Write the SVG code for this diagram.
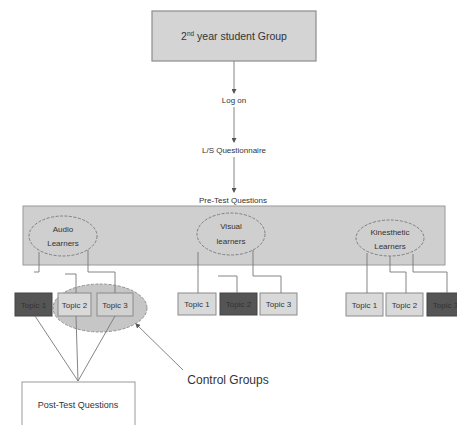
<svg xmlns="http://www.w3.org/2000/svg" width="457" height="425" viewBox="0 0 457 425">
<defs>
<style>
text{font-family:"Liberation Sans",Arial,sans-serif;fill:#333;text-anchor:middle}
.box{fill:#d4d4d4;stroke:#8c8c8c;stroke-width:1.2}
.band{fill:#cfcfcf;stroke:#9a9a9a;stroke-width:1}
.ell{fill:#cfcfcf;stroke:#777;stroke-width:0.9;stroke-dasharray:3 1.5}
.ctl{fill:#c6c6c6;stroke:#888;stroke-width:0.9;stroke-dasharray:3 1.5}
.tl{fill:#d9d9d9;stroke:#8a8a8a;stroke-width:1}
.td{fill:#555;stroke:#444;stroke-width:1}
.ln{fill:none;stroke:#777;stroke-width:0.9}
.t8{font-size:8px}
.t9{font-size:9px}
</style>
<marker id="ah" markerWidth="5" markerHeight="5" refX="4" refY="2.5" orient="auto" markerUnits="userSpaceOnUse">
<path d="M0,0 L5,2.5 L0,5 Z" fill="#555"/>
</marker>
</defs>

<g id="top">
<rect class="box" x="152" y="11" width="164" height="50"/>
<text x="234" y="40" font-size="10.5">2<tspan font-size="6.5" dy="-4">nd</tspan><tspan dy="4"> year student Group</tspan></text>
</g>

<g id="logon"><text class="t8" x="234" y="103">Log on</text></g>
<g id="ls"><text class="t8" x="234" y="153">L/S Questionnaire</text></g>

<g id="band">
<rect class="band" x="23" y="206" width="422" height="59"/>
</g>
<g id="pretest"><text class="t8" x="233" y="203">Pre-Test Questions</text></g>

<g id="audio">
<ellipse class="ell" cx="63" cy="236" rx="34" ry="20"/>
<text class="t8" x="63" y="232">Audio</text>
<text class="t8" x="63" y="246">Learners</text>
</g>
<g id="visual">
<ellipse class="ell" cx="231" cy="234" rx="34" ry="21"/>
<text class="t8" x="231" y="229">Visual</text>
<text class="t8" x="231" y="244">learners</text>
</g>
<g id="kinesthetic">
<ellipse class="ell" cx="390" cy="238" rx="34" ry="18"/>
<text class="t8" x="390" y="235">Kinesthetic</text>
<text class="t8" x="390" y="249">Learners</text>
</g>

<g id="controlgroup">
<ellipse class="ctl" cx="100" cy="308" rx="47" ry="24"/>
</g>

<g id="a1"><rect class="td" x="15" y="293" width="37" height="23"/><text class="t8" x="33.5" y="308">Topic 1</text></g>
<g id="a2"><rect class="tl" x="58" y="293" width="33" height="23"/><text class="t8" x="74.5" y="308">Topic 2</text></g>
<g id="a3"><rect class="tl" x="97" y="293" width="36" height="23" fill-opacity="0.6"/><text class="t8" x="115" y="308" fill="#777">Topic 3</text></g>

<g id="v1"><rect class="tl" x="178" y="293" width="38" height="22"/><text class="t8" x="197" y="307">Topic 1</text></g>
<g id="v2"><rect class="td" x="220" y="293" width="37" height="22"/><text class="t8" x="238.5" y="307">Topic 2</text></g>
<g id="v3"><rect class="tl" x="260" y="293" width="37" height="22"/><text class="t8" x="278.5" y="307">Topic 3</text></g>

<g id="k1"><rect class="tl" x="346" y="293" width="37" height="23"/><text class="t8" x="364.5" y="308">Topic 1</text></g>
<g id="k2"><rect class="tl" x="386" y="293" width="37" height="23"/><text class="t8" x="404.5" y="308">Topic 2</text></g>
<g id="k3"><rect class="td" x="427" y="293" width="37" height="23"/><text class="t8" x="445.5" y="308">Topic 3</text></g>

<g id="posttest">
<rect x="22" y="382" width="113" height="45" fill="#fff" stroke="#999" stroke-width="1"/>
<text class="t9" x="78" y="408">Post-Test Questions</text>
</g>

<g id="controllabel"><text x="228" y="384" font-size="12">Control Groups</text></g>

<g id="connectors">
<path class="ln" d="M234,61 V93" marker-end="url(#ah)"/>
<path class="ln" d="M234,107 V142" marker-end="url(#ah)"/>
<path class="ln" d="M234,157 V192" marker-end="url(#ah)"/>

<path class="ln" d="M39,252 V272 H34"/>
<path class="ln" d="M65,274 H76 V293"/>
<path class="ln" d="M88,250 V272 H115 V293"/>

<path class="ln" d="M198,252 V293"/>
<path class="ln" d="M218,276 H237 V293"/>
<path class="ln" d="M253,250 V276 H281 V293"/>

<path class="ln" d="M367,253 V293"/>
<path class="ln" d="M390,256 V272 H406 V293"/>
<path class="ln" d="M413,254 V272 H447 V293"/>

<path class="ln" d="M35,316 L78,381"/>
<path class="ln" d="M76,316 L78,381"/>
<path class="ln" d="M115,316 L78,381"/>

<path class="ln" d="M183,370 L136,324" marker-end="url(#ah)"/>
</g>
</svg>
